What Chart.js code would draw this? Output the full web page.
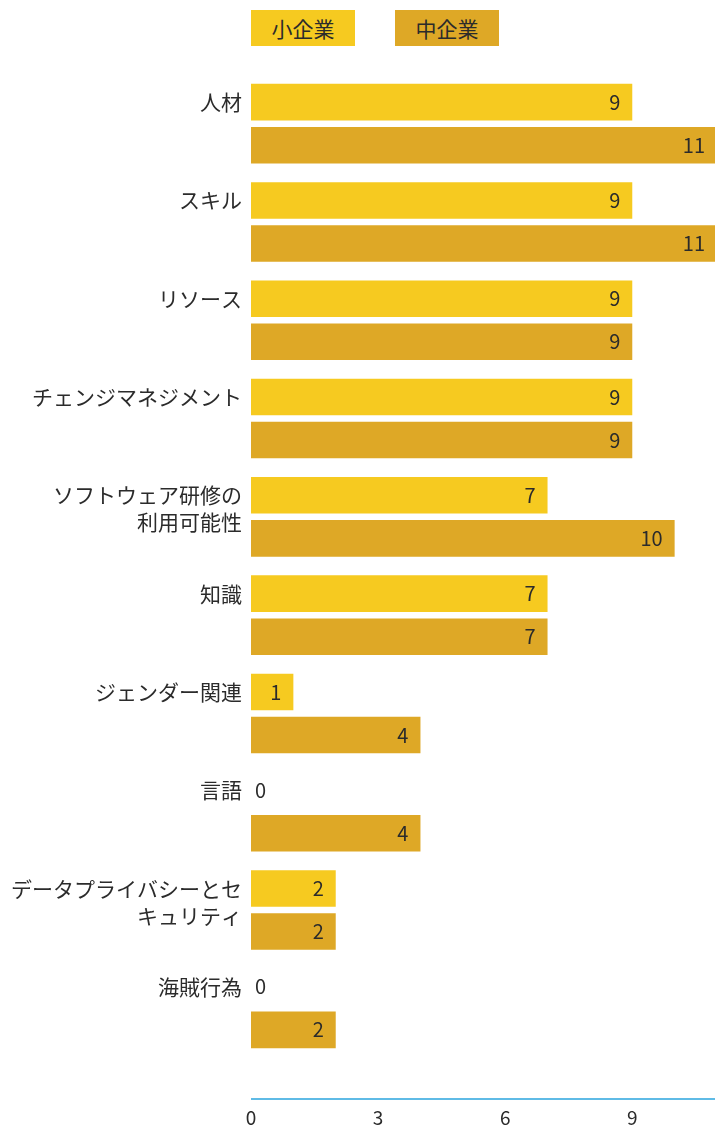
<!DOCTYPE html>
<html>
<head>
<meta charset="utf-8">
<script src="https://cdn.jsdelivr.net/npm/chart.js@4"></script>
<style>
  html, body { margin: 0; padding: 0; background: #fff; overflow: hidden; }
  #wrap { position: relative; width: 717px; height: 1126px; }
  .key {
    position: absolute; top: 10px; width: 104px; height: 36px;
    font: 21px "Noto Sans CJK JP", sans-serif; color: #2b2b2b;
    display: flex; align-items: center; justify-content: center;
  }
</style>
</head>
<body>
<div id="wrap">
  <div class="key" style="left:251px;background:#F6CA20">小企業</div>
  <div class="key" style="left:395px;background:#DEA826">中企業</div>
  <canvas id="chart"></canvas>
</div>
<script>
const categories = [
  ['人材'],
  ['スキル'],
  ['リソース'],
  ['チェンジマネジメント'],
  ['ソフトウェア研修の', '利用可能性'],
  ['知識'],
  ['ジェンダー関連'],
  ['言語'],
  ['データプライバシーとセ', 'キュリティ'],
  ['海賊行為']
];
const seriesNames = ['小企業', '中企業'];
const smallValues = [9, 9, 9, 9, 7, 7, 1, 0, 2, 0];
const mediumValues = [11, 11, 9, 9, 10, 7, 4, 4, 2, 2];
const xTicks = [0, 3, 6, 9];

const textColor = '#2b2b2b';
const cjk = '"Noto Sans CJK JP", sans-serif';

// draws category labels next to the first bar, values inside the bar end, and the axis line
const customDraw = {
  id: 'customDraw',
  afterDatasetsDraw(chart) {
    const ctx = chart.ctx;
    const area = chart.chartArea;
    const x = chart.scales.x;
    ctx.save();

    // category labels
    const first = chart.getDatasetMeta(0).data;
    ctx.font = '21px ' + cjk;
    ctx.fillStyle = textColor;
    ctx.textAlign = 'right';
    ctx.textBaseline = 'middle';
    categories.forEach((lines, i) => {
      lines.forEach((line, j) => {
        ctx.fillText(line, area.left - 9, first[i].y + j * 27);
      });
    });

    // value labels
    ctx.font = '20px ' + cjk;
    chart.data.datasets.forEach((ds, di) => {
      chart.getDatasetMeta(di).data.forEach((bar, i) => {
        const v = ds.data[i];
        if (v === 0) {
          ctx.textAlign = 'left';
          ctx.fillText(String(v), x.getPixelForValue(0) + 4, bar.y);
        } else {
          ctx.textAlign = 'right';
          ctx.fillText(String(v), bar.x - 12, bar.y);
        }
      });
    });

    // x axis line below the bars
    ctx.strokeStyle = '#2AA5DE';
    ctx.lineWidth = 1.5;
    ctx.beginPath();
    ctx.moveTo(area.left, area.bottom + 41.5);
    ctx.lineTo(area.right, area.bottom + 41.5);
    ctx.stroke();
    ctx.restore();
  }
};

new Chart(document.getElementById('chart'), {
  type: 'bar',
  data: {
    labels: categories.map(c => c.join('')),
    datasets: [{
      label: seriesNames[0],
      data: smallValues,
      backgroundColor: '#F6CA20',
      categoryPercentage: 0.875,
      barPercentage: 0.85
    }, {
      label: seriesNames[1],
      data: mediumValues,
      backgroundColor: '#DEA826',
      categoryPercentage: 0.875,
      barPercentage: 0.85
    }]
  },
  options: {
    indexAxis: 'y',
    responsive: true,
    maintainAspectRatio: false,
    animation: false,
    layout: { padding: { top: 74.5, bottom: 0, left: 0, right: 0 } },
    scales: {
      x: {
        min: 0,
        max: 11,
        afterBuildTicks: function(scale) {
          scale.ticks = xTicks.map(v => ({ value: v }));
        },
        afterFit: function(scale) { scale.height = 68.5; },
        grid: { display: false, drawTicks: false },
        border: { display: false },
        ticks: {
          color: textColor,
          font: { family: cjk, size: 19 },
          padding: 49
        }
      },
      y: {
        grid: { display: false, drawTicks: false },
        border: { display: false },
        ticks: { display: false },
        afterFit: function(scale) { scale.width = 251; }
      }
    },
    plugins: {
      legend: { display: false },
      tooltip: { enabled: false }
    }
  },
  plugins: [customDraw]
});
</script>
</body>
</html>
